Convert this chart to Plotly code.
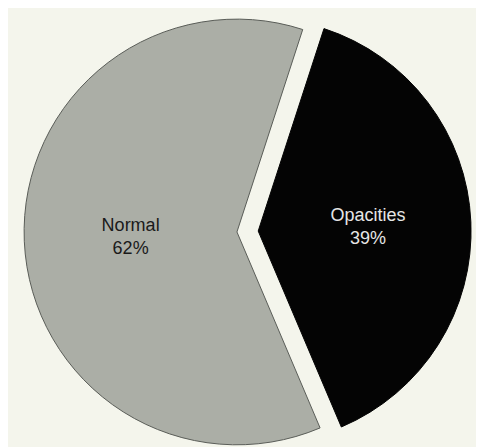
import plotly.graph_objects as go

labels = ["Opacities", "Normal"]
values = [39, 62]
colors = ["#040404", "#abaea6"]
text_colors = ["#e6e6e6", "#1a1a1a"]

fig = go.Figure(go.Pie(
    labels=labels,
    values=values,
    sort=False,
    direction="clockwise",
    rotation=18,
    pull=[0.05, 0.05],
    marker=dict(colors=colors, line=dict(color=["#040404", "#5a5d58"], width=1)),
    texttemplate="%{label}<br>%{value}%",
    textposition="inside",
    insidetextorientation="horizontal",
    textfont=dict(family="Liberation Sans, Arial, sans-serif", size=18, color=text_colors),
    hoverinfo="skip",
    showlegend=False,
    domain=dict(x=[0.0, 0.99], y=[0, 1]),
))

fig.update_layout(
    width=484,
    height=447,
    margin=dict(l=0, r=0, t=0, b=0),
    paper_bgcolor="#f4f5ec",
    plot_bgcolor="#f4f5ec",
)

fig.write_html("out.html")
